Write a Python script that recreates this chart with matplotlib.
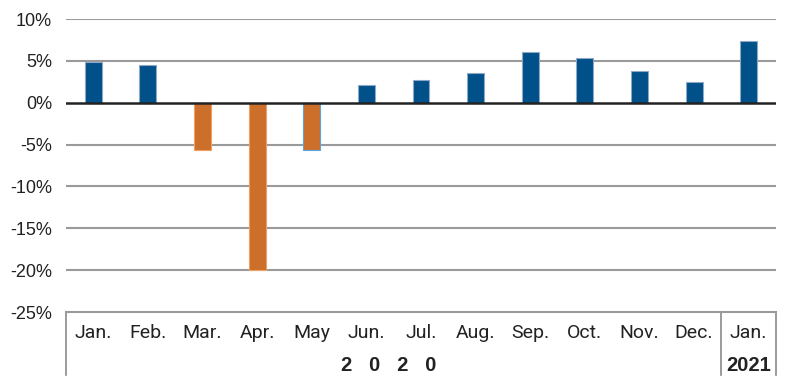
import matplotlib.pyplot as plt
from matplotlib.ticker import FuncFormatter

months = ["Jan.", "Feb.", "Mar.", "Apr.", "May", "Jun.", "Jul.",
          "Aug.", "Sep.", "Oct.", "Nov.", "Dec.", "Jan."]
values = [4.9, 4.5, -5.7, -20.0, -5.7, 2.1, 2.7, 3.6, 6.1, 5.4, 3.8, 2.5, 7.4]
yticks = [10, 5, 0, -5, -10, -15, -20, -25]

blue = "#00508a"
orange = "#cc6f2a"

fig = plt.figure(figsize=(8, 3.85), dpi=100)
ax = fig.add_axes([0.0825, 0.1896, 0.8875, 0.761])

x = list(range(len(months)))
colors = [orange if v < 0 else blue for v in values]
edges = ["#f0a060" if v < 0 else "#8fa8c8" for v in values]
edges[4] = "#5aa4e0"
ax.bar(x, values, width=0.31, color=colors, edgecolor=edges, linewidth=0.8, zorder=3)

ax.set_xlim(-0.5, len(months) - 0.5)
ax.set_ylim(-25, 10)
ax.set_yticks(yticks)
ax.yaxis.set_major_formatter(FuncFormatter(lambda v, p: f"{v:.0f}%"))
for t in yticks:
    if t == 0:
        ax.axhline(t, color="#222222", lw=1.8, zorder=4)
    elif t != -25:
        ax.axhline(t, color="#9a9a9a", lw=1.5, zorder=1)

for s in ["top", "right", "left"]:
    ax.spines[s].set_visible(False)
ax.spines["bottom"].set_color("#9a9a9a")
ax.spines["bottom"].set_linewidth(1.5)
ax.tick_params(axis="y", length=0, pad=10, labelsize=13)
ax.tick_params(axis="x", length=0)
ax.set_xticks([])
for lab in ax.get_yticklabels():
    lab.set_fontfamily("Liberation Sans")
    lab.set_color("#222222")

tr = ax.get_xaxis_transform()
for xv in [-0.5, 11.5, len(months) - 0.5]:
    ax.plot([xv, xv], [0, -0.215], transform=tr, color="#8a8a8a", lw=1.2, clip_on=False)

for i, m in enumerate(months):
    ax.text(i, -0.072, m, transform=tr, ha="center", va="center", fontsize=14,
            family="Roboto", color="#222222")

ax.text(5.4, -0.181, "2   0   2   0", transform=tr, ha="center", va="center",
        fontsize=14.5, fontweight="bold", family="Liberation Sans", color="#222222")
ax.text(12, -0.181, "2021", transform=tr, ha="center", va="center",
        fontsize=14.5, fontweight="bold", family="Liberation Sans", color="#222222")

fig.savefig("out.png", dpi=100)
